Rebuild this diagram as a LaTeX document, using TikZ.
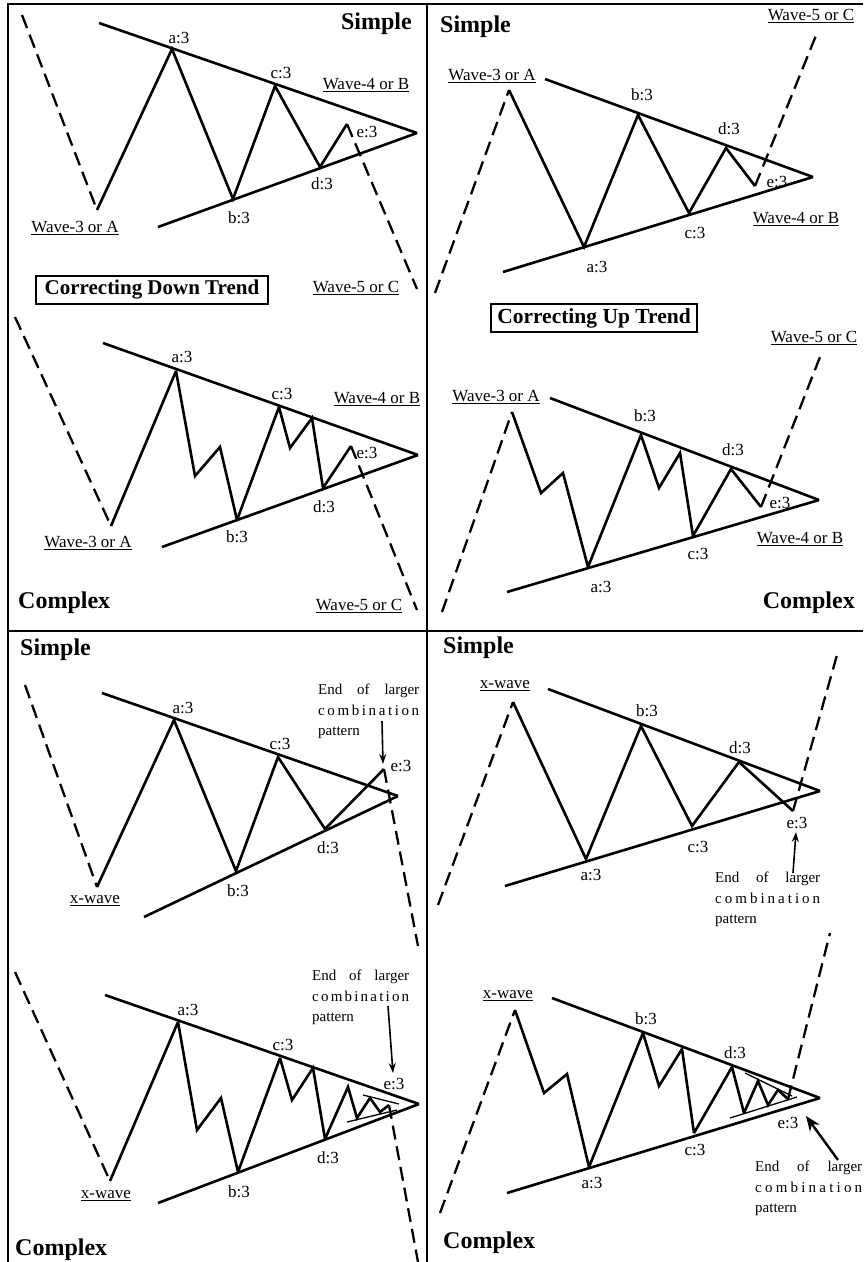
\documentclass[tikz,border=0pt]{standalone}
\usepackage{fontspec}
\setmainfont{Liberation Serif}
\usetikzlibrary{arrows.meta}
\newcommand{\largerblk}[1]{\makebox[#1][s]{End of larger}\\\makebox[#1][s]{c\hfill o\hfill m\hfill b\hfill i\hfill n\hfill a\hfill t\hfill i\hfill o\hfill n}\\pattern}
\begin{document}
\begin{tikzpicture}[x=1pt,y=-1pt,
  frm/.style={line width=2.6pt},
  ln/.style={line width=2.6pt},
  wv/.style={line width=2.6pt, line join=miter, miter limit=3},
  dsh/.style={line width=2.3pt, dash pattern=on 14pt off 7pt},
  sublines/.style={line width=1.3pt},
  lbl/.style={inner sep=0pt, font=\fontsize{17}{20}\selectfont},
  ttl/.style={inner sep=0pt, font=\bfseries\fontsize{24}{28}\selectfont},
  tbox/.style={draw, line width=1.4pt, inner sep=0pt, font=\bfseries\fontsize{21}{24}\selectfont, minimum height=28pt},
  eblk/.style={inner sep=0pt, anchor=north west, align=left, font=\fontsize{15}{20.5}\selectfont},
  arr/.style={line width=1.6pt, -{Stealth[length=10pt,width=7pt]}},
  bigarr/.style={line width=2.4pt, -{Stealth[length=15pt,width=12pt]}}
]
\useasboundingbox (0,0) rectangle (863,1262);
\fill[white] (0,0) rectangle (863,1262);
% frame
\coordinate (TL) at (8,4); \coordinate (TR) at (863,4); \coordinate (BL) at (8,1262);
\coordinate (MT) at (427,4); \coordinate (MB) at (427,1262);
\coordinate (HL) at (8,631); \coordinate (HR) at (863,631);
\draw[frm] (TR) -- (TL) -- (BL);
\draw[frm] (MT) -- (MB);
\draw[frm] (HL) -- (HR);

% ---------- Panel 1 ----------
\coordinate (p1s) at (22,15); \coordinate (p1w) at (97,210);
\coordinate (p1a) at (172,49); \coordinate (p1b) at (233,199);
\coordinate (p1c) at (275,86); \coordinate (p1d) at (320,167);
\coordinate (p1e) at (347,124); \coordinate (p1z) at (417,289);
\coordinate (p1u) at (99,23); \coordinate (p1x) at (417,133); \coordinate (p1l) at (158,227);
\draw[ln] (p1u) -- (p1x); \draw[ln] (p1l) -- (p1x);
\draw[dsh] (p1s) -- (p1w);
\draw[wv] (p1w) -- (p1a) -- (p1b) -- (p1c) -- (p1d) -- (p1e);
\draw[dsh] (p1e) -- (p1z);
\node[lbl] (p1la) at (179,38) {a:3};
\node[lbl] (p1lb) at (239,218) {b:3};
\node[lbl] (p1lc) at (281,73) {c:3};
\node[lbl] (p1ld) at (322,184) {d:3};
\node[lbl] (p1le) at (367,132) {e:3};
\node[lbl] (p1w3) at (75,228) {\underline{Wave-3 or A}};
\node[lbl] (p1w4) at (366,85) {\underline{Wave-4 or B}};
\node[lbl] (p1w5) at (356,288) {\underline{Wave-5 or C}};
\node[ttl, anchor=east] (p1t) at (412,24) {Simple};
\node[tbox, minimum width=232pt] (p1box) at (152,290) {Correcting Down Trend};

% ---------- Panel 2 ----------
\coordinate (p2s) at (15,317); \coordinate (p2w) at (111,526);
\coordinate (p2a) at (176,371); \coordinate (p2a1) at (195,476); \coordinate (p2a2) at (220,447);
\coordinate (p2b) at (237,520);
\coordinate (p2c) at (279,407); \coordinate (p2c1) at (290,448); \coordinate (p2c2) at (312,418);
\coordinate (p2d) at (323,488); \coordinate (p2e) at (351,446); \coordinate (p2z) at (417,610);
\coordinate (p2u) at (103,343); \coordinate (p2x) at (418,455); \coordinate (p2l) at (162,547);
\draw[ln] (p2u) -- (p2x); \draw[ln] (p2l) -- (p2x);
\draw[dsh] (p2s) -- (p2w);
\draw[wv] (p2w) -- (p2a) -- (p2a1) -- (p2a2) -- (p2b) -- (p2c) -- (p2c1) -- (p2c2) -- (p2d) -- (p2e);
\draw[dsh] (p2e) -- (p2z);
\node[lbl] (p2la) at (182,357) {a:3};
\node[lbl] (p2lb) at (237,537) {b:3};
\node[lbl] (p2lc) at (282,394) {c:3};
\node[lbl] (p2ld) at (324,507) {d:3};
\node[lbl] (p2le) at (367,453) {e:3};
\node[lbl] (p2w3) at (88,543) {\underline{Wave-3 or A}};
\node[lbl] (p2w4) at (377,399) {\underline{Wave-4 or B}};
\node[lbl] (p2w5) at (359,606) {\underline{Wave-5 or C}};
\node[ttl, anchor=west] (p2t) at (18,603) {Complex};

% ---------- Panel 3 ----------
\coordinate (p3s) at (435,293); \coordinate (p3w) at (509,90);
\coordinate (p3a) at (584,247); \coordinate (p3b) at (638,115);
\coordinate (p3c) at (689,213); \coordinate (p3d) at (726,148);
\coordinate (p3e) at (755,186); \coordinate (p3z) at (817,33);
\coordinate (p3u) at (545,79); \coordinate (p3x) at (813,177); \coordinate (p3l) at (503,272);
\draw[ln] (p3u) -- (p3x); \draw[ln] (p3l) -- (p3x);
\draw[dsh] (p3s) -- (p3w);
\draw[wv] (p3w) -- (p3a) -- (p3b) -- (p3c) -- (p3d) -- (p3e);
\draw[dsh] (p3e) -- (p3z);
\node[lbl] (p3la) at (597,267) {a:3};
\node[lbl] (p3lb) at (642,95) {b:3};
\node[lbl] (p3lc) at (695,233) {c:3};
\node[lbl] (p3ld) at (729,129) {d:3};
\node[lbl] (p3le) at (777,182) {e:3};
\node[lbl] (p3w3) at (492,76) {\underline{Wave-3 or A}};
\node[lbl] (p3w4) at (796,219) {\underline{Wave-4 or B}};
\node[lbl] (p3w5) at (811,16) {\underline{Wave-5 or C}};
\node[ttl, anchor=west] (p3t) at (440,27) {Simple};

% ---------- Panel 4 ----------
\coordinate (p4s) at (442,612); \coordinate (p4w) at (512,412);
\coordinate (p4w1) at (541,493); \coordinate (p4w2) at (563,473);
\coordinate (p4a) at (588,567); \coordinate (p4b) at (641,435);
\coordinate (p4b1) at (659,488); \coordinate (p4b2) at (680,453);
\coordinate (p4c) at (693,536); \coordinate (p4d) at (731,469);
\coordinate (p4e) at (761,507); \coordinate (p4z) at (820,357);
\coordinate (p4u) at (550,398); \coordinate (p4x) at (819,500); \coordinate (p4l) at (507,592);
\draw[ln] (p4u) -- (p4x); \draw[ln] (p4l) -- (p4x);
\draw[dsh] (p4s) -- (p4w);
\draw[wv] (p4w) -- (p4w1) -- (p4w2) -- (p4a) -- (p4b) -- (p4b1) -- (p4b2) -- (p4c) -- (p4d) -- (p4e);
\draw[dsh] (p4e) -- (p4z);
\node[lbl] (p4la) at (601,587) {a:3};
\node[lbl] (p4lb) at (645,416) {b:3};
\node[lbl] (p4lc) at (698,554) {c:3};
\node[lbl] (p4ld) at (733,450) {d:3};
\node[lbl] (p4le) at (780,503) {e:3};
\node[lbl] (p4w3) at (496,397) {\underline{Wave-3 or A}};
\node[lbl] (p4w4) at (800,539) {\underline{Wave-4 or B}};
\node[lbl] (p4w5) at (814,338) {\underline{Wave-5 or C}};
\node[ttl, anchor=east] (p4t) at (855,603) {Complex};
\node[tbox, minimum width=206pt, font=\bfseries\fontsize{21.5}{24}\selectfont] (p4box) at (594,318) {Correcting Up Trend};

% ---------- Panel 5 ----------
\coordinate (p5s) at (25,685); \coordinate (p5w) at (97,887);
\coordinate (p5a) at (174,720); \coordinate (p5b) at (236,871);
\coordinate (p5c) at (278,757); \coordinate (p5d) at (325,829);
\coordinate (p5e) at (384,769); \coordinate (p5z) at (418,946);
\coordinate (p5u) at (102,693); \coordinate (p5x) at (398,796); \coordinate (p5l) at (144,917);
\draw[ln] (p5u) -- (p5x); \draw[ln] (p5l) -- (p5x);
\draw[dsh] (p5s) -- (p5w);
\draw[wv] (p5w) -- (p5a) -- (p5b) -- (p5c) -- (p5d) -- (p5e);
\draw[dsh] (p5e) -- (p5z);
\node[lbl] (p5la) at (183,708) {a:3};
\node[lbl] (p5lb) at (238,891) {b:3};
\node[lbl] (p5lc) at (280,744) {c:3};
\node[lbl] (p5ld) at (328,848) {d:3};
\node[lbl] (p5le) at (401,766) {e:3};
\node[lbl] (p5xw) at (95,901) {\underline{x-wave}};
\node[ttl, anchor=west] (p5t) at (20,650) {Simple};
\node[eblk] (p5eb) at (318,684) {\largerblk{101pt}};
\coordinate (p5r1) at (382,721); \coordinate (p5r2) at (383,764);
\draw[arr] (p5r1) -- (p5r2);

% ---------- Panel 6 ----------
\coordinate (p6s) at (15,972); \coordinate (p6w) at (110,1181);
\coordinate (p6a) at (178,1022); \coordinate (p6a1) at (197,1130); \coordinate (p6a2) at (221,1098);
\coordinate (p6b) at (238,1172);
\coordinate (p6c) at (280,1058); \coordinate (p6c1) at (292,1100); \coordinate (p6c2) at (313,1068);
\coordinate (p6d) at (325,1139);
\coordinate (p6e1) at (348,1087); \coordinate (p6e2) at (357,1118); \coordinate (p6e3) at (370,1098);
\coordinate (p6e4) at (380,1112); \coordinate (p6e) at (389,1105); \coordinate (p6z) at (418,1262);
\coordinate (p6u) at (105,995); \coordinate (p6x) at (419,1104); \coordinate (p6l) at (158,1203);
\coordinate (p6i1) at (363,1095); \coordinate (p6i2) at (399,1104);
\coordinate (p6i3) at (347,1122); \coordinate (p6i4) at (397,1110);
\draw[ln] (p6u) -- (p6x); \draw[ln] (p6l) -- (p6x);
\draw[sublines] (p6i1) -- (p6i2); \draw[sublines] (p6i3) -- (p6i4);
\draw[dsh] (p6s) -- (p6w);
\draw[wv] (p6w) -- (p6a) -- (p6a1) -- (p6a2) -- (p6b) -- (p6c) -- (p6c1) -- (p6c2) -- (p6d) -- (p6e1) -- (p6e2) -- (p6e3) -- (p6e4) -- (p6e);
\draw[dsh] (p6e) -- (p6z);
\node[lbl] (p6la) at (188,1010) {a:3};
\node[lbl] (p6lb) at (239,1192) {b:3};
\node[lbl] (p6lc) at (283,1045) {c:3};
\node[lbl] (p6ld) at (328,1158) {d:3};
\node[lbl] (p6le) at (394,1084) {e:3};
\node[lbl] (p6xw) at (106,1196) {\underline{x-wave}};
\node[ttl, anchor=west] (p6t) at (15,1250) {Complex};
\node[eblk] (p6eb) at (312,970) {\largerblk{97pt}};
\coordinate (p6r1) at (388,1006); \coordinate (p6r2) at (393,1073);
\draw[arr] (p6r1) -- (p6r2);

% ---------- Panel 7 ----------
\coordinate (p7s) at (438,905); \coordinate (p7w) at (513,702);
\coordinate (p7a) at (586,859); \coordinate (p7b) at (641,726);
\coordinate (p7c) at (692,826); \coordinate (p7d) at (739,762);
\coordinate (p7e) at (793,811); \coordinate (p7z) at (837,655);
\coordinate (p7u) at (548,689); \coordinate (p7x) at (820,791); \coordinate (p7l) at (505,886);
\draw[ln] (p7u) -- (p7x); \draw[ln] (p7l) -- (p7x);
\draw[dsh] (p7s) -- (p7w);
\draw[wv] (p7w) -- (p7a) -- (p7b) -- (p7c) -- (p7d) -- (p7e);
\draw[dsh] (p7e) -- (p7z);
\node[lbl] (p7la) at (591,875) {a:3};
\node[lbl] (p7lb) at (647,711) {b:3};
\node[lbl] (p7lc) at (698,847) {c:3};
\node[lbl] (p7ld) at (740,748) {d:3};
\node[lbl] (p7le) at (797,823) {e:3};
\node[lbl] (p7xw) at (505,686) {\underline{x-wave}};
\node[ttl, anchor=west] (p7t) at (443,648) {Simple};
\node[eblk] (p7eb) at (715,872) {\largerblk{105pt}};
\coordinate (p7r1) at (793,873); \coordinate (p7r2) at (796,832);
\draw[arr] (p7r1) -- (p7r2);

% ---------- Panel 8 ----------
\coordinate (p8s) at (440,1213); \coordinate (p8w) at (515,1010);
\coordinate (p8w1) at (544,1093); \coordinate (p8w2) at (567,1074);
\coordinate (p8a) at (589,1167); \coordinate (p8b) at (643,1033);
\coordinate (p8b1) at (659,1086); \coordinate (p8b2) at (682,1049);
\coordinate (p8c) at (694,1133); \coordinate (p8d) at (732,1067);
\coordinate (p8d1) at (744,1113); \coordinate (p8d2) at (758,1081);
\coordinate (p8d3) at (768,1105); \coordinate (p8d4) at (778,1090);
\coordinate (p8e) at (788,1099); \coordinate (p8z) at (830,933);
\coordinate (p8u) at (552,998); \coordinate (p8x) at (820,1098); \coordinate (p8l) at (507,1193);
\coordinate (p8i1) at (745,1073); \coordinate (p8i2) at (792,1096);
\coordinate (p8i3) at (730,1118); \coordinate (p8i4) at (797,1097);
\draw[ln] (p8u) -- (p8x); \draw[ln] (p8l) -- (p8x);
\draw[sublines] (p8i1) -- (p8i2); \draw[sublines] (p8i3) -- (p8i4);
\draw[dsh] (p8s) -- (p8w);
\draw[wv] (p8w) -- (p8w1) -- (p8w2) -- (p8a) -- (p8b) -- (p8b1) -- (p8b2) -- (p8c) -- (p8d) -- (p8d1) -- (p8d2) -- (p8d3) -- (p8d4) -- (p8e);
\draw[dsh] (p8e) -- (p8z);
\node[lbl] (p8la) at (592,1183) {a:3};
\node[lbl] (p8lb) at (646,1019) {b:3};
\node[lbl] (p8lc) at (695,1150) {c:3};
\node[lbl] (p8ld) at (735,1053) {d:3};
\node[lbl] (p8le) at (788,1123) {e:3};
\node[lbl] (p8xw) at (508,996) {\underline{x-wave}};
\node[ttl, anchor=west] (p8t) at (443,1243) {Complex};
\node[eblk] (p8eb) at (755,1161) {\largerblk{107pt}};
\coordinate (p8r1) at (838,1160); \coordinate (p8r2) at (806,1116);
\draw[bigarr] (p8r1) -- (p8r2);
\end{tikzpicture}
\end{document}
